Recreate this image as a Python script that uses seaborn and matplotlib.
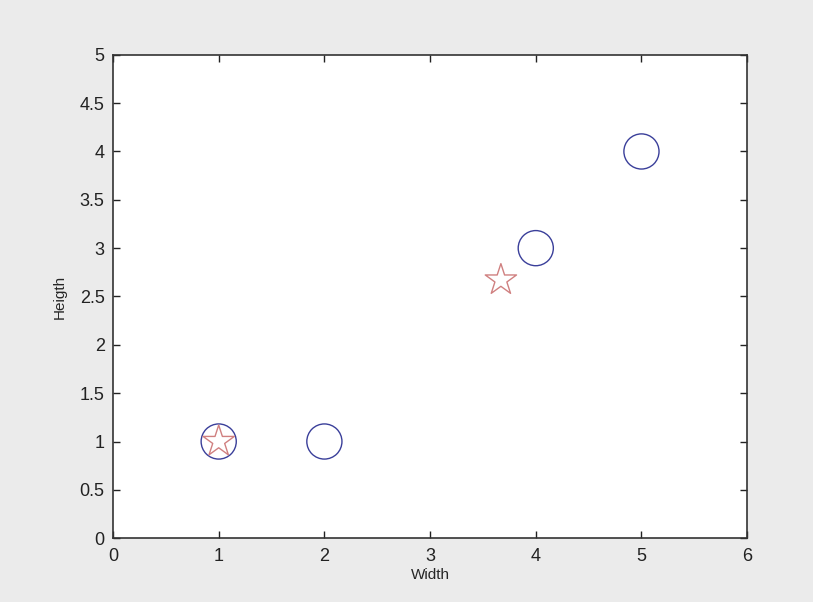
import matplotlib
matplotlib.use("Agg")
import matplotlib.pyplot as plt
import seaborn as sns
import pandas as pd

circle_x = [1, 2, 4, 5]
circle_y = [1, 1, 3, 4]
star_x = [1, 3.67]
star_y = [1, 2.67]
x_ticks = [0, 1, 2, 3, 4, 5, 6]
y_ticks = [0, 0.5, 1, 1.5, 2, 2.5, 3, 3.5, 4, 4.5, 5]
y_tick_labels = ["0", "0.5", "1", "1.5", "2", "2.5", "3", "3.5", "4", "4.5", "5"]

sns.set_style("ticks")
plt.rcParams['font.family'] = ['Liberation Sans', 'DejaVu Sans']

fig = plt.figure(figsize=(8.13, 6.02), dpi=100, facecolor="#ebebeb")
ax = fig.add_axes([0.139, 0.106, 0.780, 0.803])
ax.set_facecolor("white")

df_c = pd.DataFrame({"Width": circle_x, "Heigth": circle_y})
df_s = pd.DataFrame({"Width": star_x, "Heigth": star_y})

sns.scatterplot(data=df_c, x="Width", y="Heigth", ax=ax, marker="o", s=640,
                facecolors="none", edgecolor="#3a3f9a", linewidth=1.0)
sns.scatterplot(data=df_s, x="Width", y="Heigth", ax=ax, marker="*", s=560,
                facecolors="none", edgecolor="#d08080", linewidth=1.0)

ax.set_xlim(0, 6)
ax.set_ylim(0, 5)
ax.set_xticks(x_ticks)
ax.set_yticks(y_ticks)
ax.set_yticklabels(y_tick_labels)
ax.tick_params(direction="in", top=True, right=True, length=5, width=1,
               labelsize=13, colors="#222222")
ax.tick_params(axis="x", pad=7)
ax.tick_params(axis="y", pad=6)
for sp in ax.spines.values():
    sp.set_visible(True)
    sp.set_color("#333333")
    sp.set_linewidth(1.2)
ax.set_xlabel("Width", fontsize=11, labelpad=2)
ax.set_ylabel("Heigth", fontsize=11, labelpad=9)

fig.savefig("out.png", dpi=100, facecolor=fig.get_facecolor())
